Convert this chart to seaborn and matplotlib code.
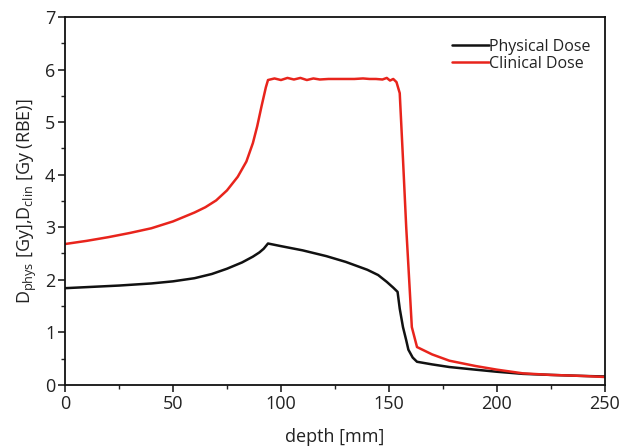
import matplotlib
matplotlib.use("Agg")
import matplotlib.pyplot as plt
from matplotlib.ticker import MultipleLocator
import seaborn as sns
import pandas as pd

# ── Data ─────────────────────────────────────────────────────────────────────
phys_depth = [0, 10, 25, 40, 50, 60, 68, 75, 82, 87, 90, 92, 94, 100, 110,
              121, 130, 140, 145, 149, 152, 154, 155, 156.5, 158, 159, 161,
              163, 170, 178, 190, 200, 212, 225, 240, 250]
phys_dose = [1.84, 1.86, 1.89, 1.93, 1.97, 2.03, 2.11, 2.21, 2.33, 2.44, 2.52,
             2.59, 2.69, 2.64, 2.56, 2.45, 2.34, 2.19, 2.09, 1.96, 1.85, 1.77,
             1.45, 1.10, 0.85, 0.67, 0.52, 0.44, 0.39, 0.34, 0.29, 0.25, 0.21,
             0.19, 0.17, 0.16]

clin_depth = [0, 10, 20, 30, 40, 50, 60, 65, 70, 75, 80, 84, 87, 89, 91, 93,
              94, 97, 100, 103, 106, 109, 112, 115, 118, 122, 128, 134, 138,
              141, 144, 147, 149, 150.5, 152, 153.5, 155, 156.5, 158, 160.6,
              163, 170, 178, 190, 200, 212, 225, 240, 250]
clin_dose = [2.68, 2.74, 2.81, 2.89, 2.98, 3.11, 3.28, 3.38, 3.51, 3.70, 3.96,
             4.25, 4.60, 4.92, 5.30, 5.66, 5.80, 5.83, 5.80, 5.84, 5.81, 5.84,
             5.80, 5.83, 5.81, 5.82, 5.82, 5.82, 5.83, 5.82, 5.82, 5.81, 5.84,
             5.79, 5.82, 5.76, 5.55, 4.30, 3.00, 1.10, 0.72, 0.58, 0.46, 0.36,
             0.29, 0.22, 0.19, 0.17, 0.15]

series_labels = ["Physical Dose", "Clinical Dose"]
series_colors = ["#111111", "#e8241c"]

df = pd.concat([
    pd.DataFrame({"depth": phys_depth, "dose": phys_dose, "kind": series_labels[0]}),
    pd.DataFrame({"depth": clin_depth, "dose": clin_dose, "kind": series_labels[1]}),
])

# ── Style ────────────────────────────────────────────────────────────────────
sns.set_style("ticks")
plt.rcParams["font.family"] = ["Open Sans", "DejaVu Sans"]
plt.rcParams["mathtext.fontset"] = "custom"
plt.rcParams["mathtext.rm"] = "Open Sans"
plt.rcParams["mathtext.it"] = "Open Sans"

fig = plt.figure(figsize=(6.22, 4.46), dpi=100)
ax = fig.add_axes([0.1045, 0.137, 0.868, 0.825])

sns.lineplot(data=df, x="depth", y="dose", hue="kind", palette=series_colors,
             sort=False, linewidth=1.8, ax=ax, legend=True)

ax.set_xlim(0, 250)
ax.set_ylim(0, 7)
ax.xaxis.set_major_locator(MultipleLocator(50))
ax.xaxis.set_minor_locator(MultipleLocator(25))
ax.yaxis.set_major_locator(MultipleLocator(1))
ax.yaxis.set_minor_locator(MultipleLocator(0.5))
ax.tick_params(which="major", direction="out", length=5, width=1.2,
               labelsize=13, colors="#222222", pad=2)
ax.tick_params(which="minor", direction="out", length=3, width=1.0,
               colors="#222222")
for s in ax.spines.values():
    s.set_linewidth(1.3)
    s.set_color("#111111")

ax.set_xlabel("depth [mm]", fontsize=13, color="#222222", labelpad=11)
ax.set_ylabel(r"D$_{\rm phys}$ [Gy],D$_{\rm clin}$ [Gy (RBE)]", fontsize=13,
              color="#222222", labelpad=4)

leg = ax.legend(loc="upper right", frameon=False, fontsize=11.5,
                handlelength=2.3, handletextpad=0.0, labelspacing=0.05,
                borderaxespad=0.0, bbox_to_anchor=(0.985, 0.958))
for line in leg.get_lines():
    line.set_linewidth(1.8)
for t in leg.get_texts():
    t.set_color("#222222")

fig.savefig("out.png", dpi=100)
